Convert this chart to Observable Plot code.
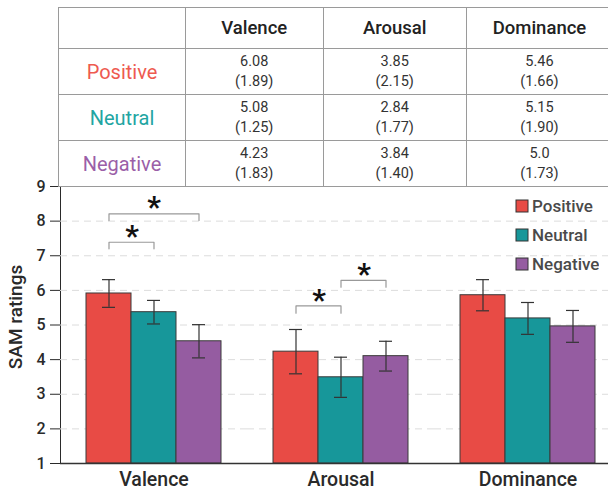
<!DOCTYPE html>
<html>
<head>
<meta charset="utf-8">
<script src="https://cdn.jsdelivr.net/npm/d3@7"></script>
<script src="https://cdn.jsdelivr.net/npm/@observablehq/plot@0.6"></script>
<style>
html, body { margin: 0; padding: 0; width: 608px; height: 490px; overflow: hidden; background: #fff; font-family: Roboto, sans-serif; }
#wrap { position: relative; width: 608px; height: 490px; overflow: hidden; }
#chart { position: absolute; left: 0; top: 0; }
#tbl { position: absolute; left: 58px; top: 7px; border-collapse: collapse; table-layout: fixed; width: 554px; font-family: Roboto, sans-serif; }
#tbl td, #tbl th { border: 1px solid #9a9a9a; text-align: center; padding: 0; }
#tbl th { font-size: 18.5px; font-weight: 500; color: #222; height: 40px; }
#tbl td { height: 45px; font-size: 14.5px; line-height: 20px; color: #333; }
#tbl td.rl { font-size: 20px; }
#leg { position: absolute; left: 516px; top: 191px; }
#leg .lg-swatches { font-family: Roboto, sans-serif; font-size: 17px; font-weight: 500; color: #4a4a4a; margin: 0; }
#leg .lg-swatch { height: 29px; padding: 0; margin: 0; }
#leg .lg-swatch svg { margin-right: 4px; overflow: visible; }
#leg .lg-swatch svg rect { stroke: #333; stroke-width: 1; }
#chart [aria-label="fx-axis tick label"], #chart [aria-label="fx-axis"] text { font-size: 19.5px; font-weight: 500; }
#chart [aria-label="y-axis tick label"], #chart [aria-label="y-axis"] text { font-size: 16px; font-weight: 500; }
#chart [aria-label="y-axis label"] { font-size: 19px; font-weight: 500; translate: 0px -8px; }
</style>
</head>
<body>
<div id="wrap">
  <div id="chart"></div>
  <table id="tbl"></table>
  <div id="leg"></div>
</div>
<script>
// ---- data ----
const groups = ["Valence", "Arousal", "Dominance"];
const series = ["Positive", "Neutral", "Negative"];
const barColors = ["#e84b45", "#17979a", "#955ca1"];
const labelColors = ["#ee5a50", "#22a5a2", "#9b5fa8"];

// bar heights (SAM ratings), by group
const positiveMeans = [5.91, 4.23, 5.86];
const neutralMeans  = [5.37, 3.49, 5.19];
const negativeMeans = [4.53, 4.10, 4.96];
// error bar half-lengths
const positiveErr = [0.40, 0.64, 0.45];
const neutralErr  = [0.34, 0.58, 0.46];
const negativeErr = [0.48, 0.43, 0.46];

// table values: mean and (SD)
const positiveTableMean = ["6.08", "3.85", "5.46"];
const positiveTableSD   = ["1.89", "2.15", "1.66"];
const neutralTableMean  = ["5.08", "2.84", "5.15"];
const neutralTableSD    = ["1.25", "1.77", "1.90"];
const negativeTableMean = ["4.23", "3.84", "5.0"];
const negativeTableSD   = ["1.83", "1.40", "1.73"];

const yTicks = [1, 2, 3, 4, 5, 6, 7, 8, 9];
const gridValues = [2, 3, 4, 5, 6, 7, 8];

// significance brackets
const bracketGroup = ["Valence", "Valence", "Arousal", "Arousal"];
const bracketFrom  = ["Positive", "Positive", "Positive", "Neutral"];
const bracketTo    = ["Neutral", "Negative", "Neutral", "Negative"];
const bracketTop   = [7.39, 8.21, 5.55, 6.29];
const bracketBase  = [7.20, 8.02, 5.34, 6.09];

// ---- table ----
const tableMeans = [positiveTableMean, neutralTableMean, negativeTableMean];
const tableSDs = [positiveTableSD, neutralTableSD, negativeTableSD];
const tbl = document.getElementById("tbl");
const colgroup = document.createElement("colgroup");
[127, 137.5, 143.5, 146].forEach(w => { const c = document.createElement("col"); c.style.width = w + "px"; colgroup.appendChild(c); });
tbl.appendChild(colgroup);
const hr = document.createElement("tr");
hr.appendChild(document.createElement("th"));
groups.forEach(g => { const th = document.createElement("th"); th.textContent = g; hr.appendChild(th); });
tbl.appendChild(hr);
series.forEach((s, i) => {
  const tr = document.createElement("tr");
  const l = document.createElement("td");
  l.className = "rl"; l.textContent = s; l.style.color = labelColors[i];
  tr.appendChild(l);
  groups.forEach((g, j) => {
    const td = document.createElement("td");
    td.innerHTML = tableMeans[i][j] + "<br>(" + tableSDs[i][j] + ")";
    tr.appendChild(td);
  });
  tbl.appendChild(tr);
});

// ---- chart ----
const meanBySeries = [positiveMeans, neutralMeans, negativeMeans];
const errBySeries = [positiveErr, neutralErr, negativeErr];
const bars = series.flatMap((s, i) => groups.map((g, j) => ({group: g, series: s, mean: meanBySeries[i][j], err: errBySeries[i][j]})));

const brackets = bracketGroup.map((g, i) => ({group: g, from: bracketFrom[i], to: bracketTo[i], top: bracketTop[i], base: bracketBase[i], id: i}));
const bracketPts = brackets.flatMap(b => [
  {group: b.group, x: b.from, y: b.base, id: b.id},
  {group: b.group, x: b.from, y: b.top, id: b.id},
  {group: b.group, x: b.to, y: b.top, id: b.id},
  {group: b.group, x: b.to, y: b.base, id: b.id}
]);
const adjacent = b => Math.abs(series.indexOf(b.to) - series.indexOf(b.from)) === 1;

const chart = Plot.plot({
  width: 608,
  height: 490,
  marginTop: 186,
  marginBottom: 27,
  marginLeft: 60,
  marginRight: 0,
  style: {fontFamily: "Roboto, sans-serif", fontSize: "16px", color: "#2a2a2a", background: "transparent"},
  fx: {domain: groups, range: [60, 621], padding: 0, label: null, tickSize: 0, tickPadding: 9},
  x: {domain: series, paddingInner: 0, paddingOuter: 0.55, axis: null},
  y: {domain: [1, 9], ticks: yTicks, tickSize: 10, tickPadding: 5, line: true, label: "SAM ratings", labelArrow: false, labelAnchor: "center", labelOffset: 52},
  color: {domain: series, range: barColors},
  marks: [
    Plot.ruleY(gridValues, {stroke: "#dcdcdc", strokeDasharray: "7,5", strokeWidth: 1}),
    Plot.barY(bars, {fx: "group", x: "series", y1: 1, y2: "mean", fill: "series", stroke: "#3a3a3a", strokeWidth: 1}),
    Plot.ruleX(bars, {fx: "group", x: "series", y1: d => d.mean - d.err, y2: d => d.mean + d.err, stroke: "#333", strokeWidth: 1.2}),
    Plot.tickY(bars, {fx: "group", x: "series", y: d => d.mean + d.err, insetLeft: 16, insetRight: 16, stroke: "#333", strokeWidth: 1.2}),
    Plot.tickY(bars, {fx: "group", x: "series", y: d => d.mean - d.err, insetLeft: 16, insetRight: 16, stroke: "#333", strokeWidth: 1.2}),
    Plot.ruleY([1], {stroke: "#333", strokeWidth: 1.5}),
    Plot.line(bracketPts, {fx: "group", x: "x", y: "y", z: "id", stroke: "#999", strokeWidth: 1.2}),
    Plot.text(brackets.filter(adjacent), {fx: "group", x: "to", y: "top", text: () => "*", dx: -22, dy: -6, fontSize: 30, fontWeight: "bold", fill: "#111"}),
    Plot.text(brackets.filter(b => !adjacent(b)), {fx: "group", x: () => "Neutral", y: "top", text: () => "*", dy: -6, fontSize: 30, fontWeight: "bold", fill: "#111"})
  ]
});
document.getElementById("chart").appendChild(chart);

const leg = Plot.legend({color: {domain: series, range: barColors}, legend: "swatches", columns: 1, swatchSize: 12, className: "lg"});
document.getElementById("leg").appendChild(leg);
</script>
</body>
</html>
